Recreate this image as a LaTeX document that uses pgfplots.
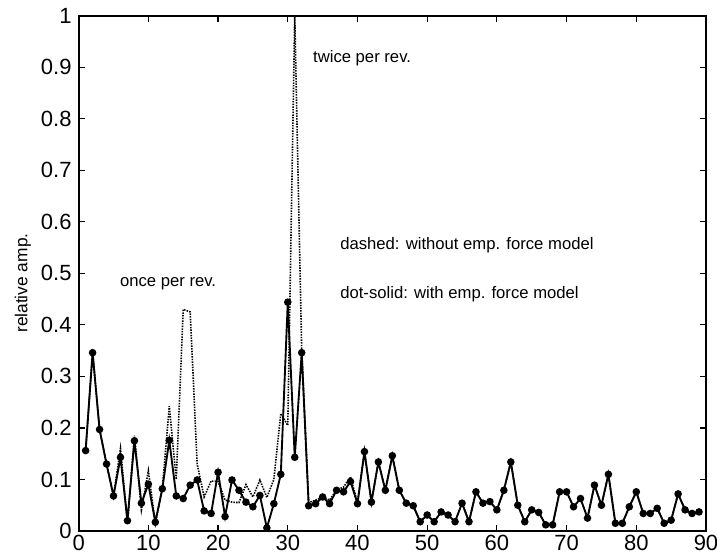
\documentclass[border=0pt]{standalone}
\usepackage{pgfplots}
\pgfplotsset{compat=1.18}
\usepackage{fontspec}
\setmainfont{Liberation Sans}
\begin{document}
\fontsize{12.5}{15}\selectfont
\begin{tikzpicture}
\begin{axis}[
  width=470.5pt, height=386.5pt, scale only axis,
  xmin=0, xmax=90, ymin=0, ymax=1,
  xtick={0,10,...,90},
  ytick={0,0.1,...,1},
  yticklabels={0,0.1,0.2,0.3,0.4,0.5,0.6,0.7,0.8,0.9,1},
  tick align=inside,
  major tick length=4.5pt,
  axis line style={line width=1.3pt},
  tick style={line width=0.9pt, black},
  /pgf/number format/assume math mode=true,
  tick label style={font=\fontsize{16.5}{20}\selectfont},
  yticklabel style={xshift=-1pt},
  xticklabel style={yshift=1pt},
  ylabel={relative amp.},
  ylabel style={font=\fontsize{13}{15}\selectfont, at={(axis description cs:-0.089,0.481)}, anchor=center},
  clip=true,
]
\addplot[black, line width=1.2pt, dash pattern=on 1.1pt off 0.9pt] coordinates {
(1,.156)(2,.346)(3,.197)(4,.130)(5,.068)(6,.160)(7,.015)(8,.185)(9,.041)(10,.117)
(11,.015)(12,.082)(13,.242)(14,.10)(15,.43)(16,.425)(17,.13)(18,.066)(19,.097)(20,.096)
(21,.06)(22,.056)(23,.055)(24,.09)(25,.066)(26,.099)(27,.065)(28,.10)(29,.228)(30,.205)
(31,1.0)(32,.35)(33,.055)(34,.06)(35,.066)(36,.06)(37,.08)(38,.085)(39,.105)(40,.055)
(41,.154)(42,.056)(43,.134)(44,.079)(45,.146)(46,.079)(47,.054)(48,.049)(49,.018)(50,.031)
(51,.018)(52,.037)(53,.031)(54,.018)(55,.054)(56,.018)(57,.076)(58,.054)(59,.057)(60,.041)
(61,.079)(62,.134)(63,.050)(64,.018)(65,.041)(66,.036)(67,.012)(68,.012)(69,.076)(70,.076)
(71,.047)(72,.063)(73,.025)(74,.089)(75,.050)(76,.110)(77,.015)(78,.015)(79,.047)(80,.076)
(81,.034)(82,.034)(83,.044)(84,.015)(85,.021)(86,.072)(87,.041)(88,.034)(89,.037)
};
\addplot[black, line width=1.4pt, mark=*, mark size=2.1pt] coordinates {
(1,.156)(2,.346)(3,.197)(4,.130)(5,.068)(6,.143)(7,.020)(8,.175)(9,.054)(10,.091)
(11,.017)(12,.082)(13,.176)(14,.068)(15,.063)(16,.089)(17,.099)(18,.039)(19,.034)(20,.114)
(21,.028)(22,.099)(23,.079)(24,.056)(25,.047)(26,.069)(27,.006)(28,.053)(29,.110)(30,.444)
(31,.143)(32,.346)(33,.049)(34,.053)(35,.066)(36,.053)(37,.079)(38,.076)(39,.096)(40,.053)
(41,.154)(42,.056)(43,.134)(44,.079)(45,.146)(46,.079)(47,.054)(48,.049)(49,.018)(50,.031)
(51,.018)(52,.037)(53,.031)(54,.018)(55,.054)(56,.018)(57,.076)(58,.054)(59,.057)(60,.041)
(61,.079)(62,.134)(63,.050)(64,.018)(65,.041)(66,.036)(67,.012)(68,.012)(69,.076)(70,.076)
(71,.047)(72,.063)(73,.025)(74,.089)(75,.050)(76,.110)(77,.015)(78,.015)(79,.047)(80,.076)
(81,.034)(82,.034)(83,.044)(84,.015)(85,.021)(86,.072)(87,.041)(88,.034)(89,.037)
};
\node[anchor=west, inner sep=0pt] at (axis cs:33.6,0.917) {twice per rev.};
\node[anchor=west, inner sep=0pt] at (axis cs:5.9,0.48) {once per rev.};
\node[anchor=west, inner sep=0pt] at (axis cs:37.5,0.554) {dashed: without emp. force model};
\node[anchor=west, inner sep=0pt] at (axis cs:37.5,0.459) {dot-solid: with emp. force model};
\end{axis}
\pgfresetboundingbox
\path (-59pt,-21.75pt) rectangle (478.75pt,398.25pt);
\end{tikzpicture}
\end{document}
